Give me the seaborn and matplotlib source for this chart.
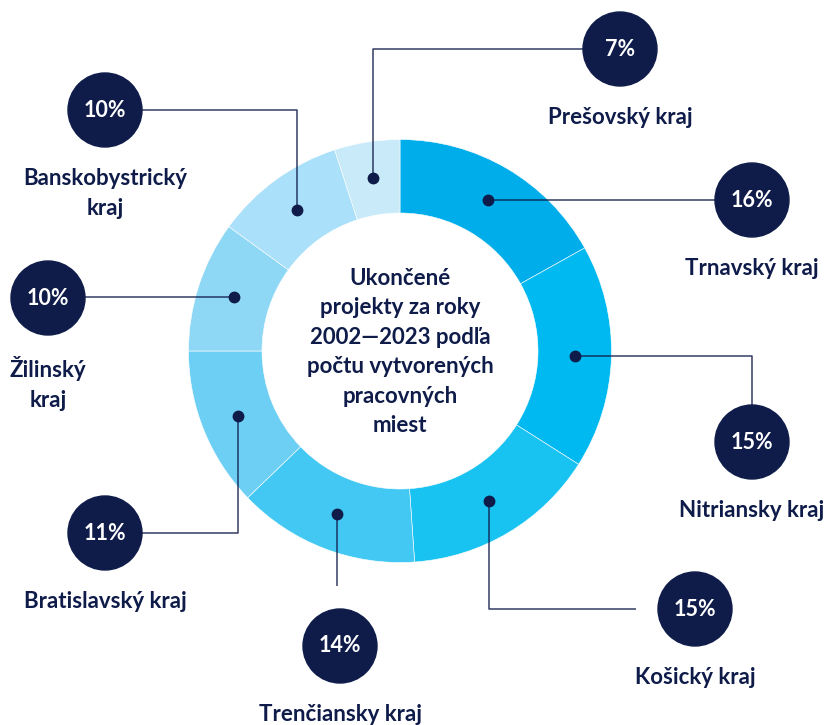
import numpy as np
import matplotlib.pyplot as plt
from matplotlib.patches import Circle
import seaborn as sns

# regions clockwise from 12 o'clock
regions = ["Trnavský kraj", "Nitriansky kraj", "Košický kraj", "Trenčiansky kraj",
           "Bratislavský kraj", "Žilinský\nkraj", "Banskobystrický\nkraj", "Prešovský kraj"]
# printed shares
pct_labels = ["16%", "15%", "15%", "14%", "11%", "10%", "10%", "7%"]
# share of the ring as it is drawn (percent of the full circle)
ring_share = [16.9, 17.1, 14.9, 13.9, 12.2, 10.0, 10.0, 5.0]
colors = ["#00adeb", "#00b9f0", "#19c3f1", "#42c8f2",
          "#6ecff5", "#8ed8f6", "#aae0f9", "#c8eaf9"]
center_title = "Ukončené\nprojekty za roky\n2002—2023 podľa\npočtu vytvorených\npracovných\nmiest"

NAVY = "#0f1c4a"
W, H = 830, 725

# badge layout (pixel coords, y from top), connector route, gap before badge
badges = [(752, 200, "h", 0), (752, 442, "hv", 0), (695, 609, "vh", 22), (340, 646, "v", 23),
          (105, 533, "vh", 0), (48, 298, "h", 0), (105, 110, "vh", 0), (620, 49, "vh", 0)]

sns.set_theme(style="white")
plt.rcParams["font.family"] = ["Lato", "DejaVu Sans"]

fig = plt.figure(figsize=(W / 100, H / 100), dpi=100)
ax = fig.add_axes([0, 0, 1, 1])

cx, cy = 400, H - 351
r_out, width = 211.5, 73.5
wedges, _ = ax.pie(ring_share, colors=colors, startangle=90, counterclock=False,
                   radius=r_out, center=(cx, cy),
                   wedgeprops=dict(width=width, edgecolor="white", linewidth=0.4))
r_mid = r_out - width / 2
br = 37

for w, name, pct, (bx, by, route, gap) in zip(wedges, regions, pct_labels, badges):
    a = np.deg2rad((w.theta1 + w.theta2) / 2)
    dx, dy = cx + r_mid * np.cos(a), cy + r_mid * np.sin(a)
    by = H - by
    reach = br + gap
    if route == "h":
        xs = [dx, bx - reach if bx > dx else bx + reach]
        ys = [dy, dy]
    elif route == "v":
        xs = [dx, dx]
        ys = [dy, by + reach if by < dy else by - reach]
    elif route == "vh":
        xs = [dx, dx, bx - reach if bx > dx else bx + reach]
        ys = [dy, by, by]
    else:  # "hv"
        xs = [dx, bx, bx]
        ys = [dy, dy, by + reach if by < dy else by - reach]
    ax.plot(xs, ys, color=NAVY, lw=1.1, alpha=0.85, zorder=2, solid_capstyle="butt")
    ax.plot(dx, dy, "o", ms=7.5, color=NAVY, zorder=4)
    ax.add_patch(Circle((bx, by), br, color=NAVY, zorder=3))
    ax.text(bx, by, pct, color="white", fontsize=15.5, fontweight="bold",
            ha="center", va="center", zorder=5)
    ax.text(bx, by - 58, name, color=NAVY, fontsize=16, fontweight="bold",
            ha="center", va="top", linespacing=1.5, multialignment="center")

ax.text(cx, cy - 1, center_title, color=NAVY, fontsize=16, fontweight="bold",
        ha="center", va="center", linespacing=1.5, multialignment="center")

ax.set_xlim(0, W)
ax.set_ylim(0, H)
ax.set_aspect("equal")
ax.axis("off")

fig.savefig("out.png", dpi=100, facecolor="white")
